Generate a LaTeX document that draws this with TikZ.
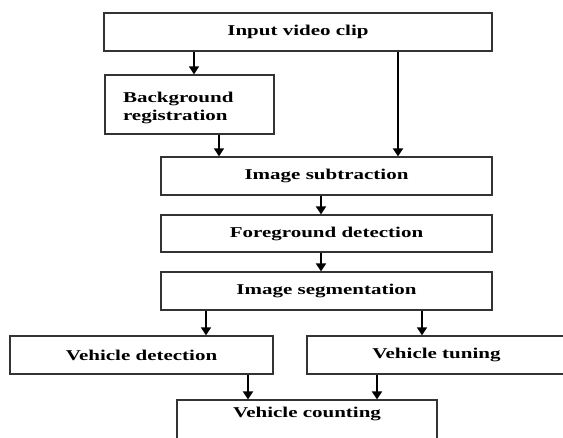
\documentclass[tikz,border=0pt]{standalone}
\usepackage{fontspec}
\setmainfont[FakeStretch=1.4]{Liberation Serif}
\usetikzlibrary{arrows.meta}

\tikzset{
    stage/.style={draw=black!80, line width=1.3pt, minimum height=38, inner sep=0pt,
        font=\fontsize{15}{18}\selectfont\bfseries},
    flow/.style={-{Triangle[length=8,width=10]}, line width=1.5pt}
}

\begin{document}
\begin{tikzpicture}[x=1pt, y=-1pt]

    \useasboundingbox (0,0) rectangle (563,437);

    % Stages
    \node[stage, minimum width=388] (input) at (298,32) {Input video clip};
    \node[stage, minimum width=169, minimum height=59, text width=133,
          align=left, text depth=15] (bgreg) at (189.5,104.5) {Background\\registration};
    \node[stage, minimum width=331] (isub) at (326.5,176) {Image subtraction};
    \node[stage, minimum width=331, minimum height=37] (fgdet) at (326.5,233.5) {Foreground detection};
    \node[stage, minimum width=331] (iseg) at (326.5,291) {Image segmentation};
    \node[stage, minimum width=263] (vdet) at (141.5,355) {Vehicle detection};
    \node[stage, minimum width=259] (vtun) at (436.5,355) {Vehicle tuning};
    \node[stage, minimum width=260, minimum height=44] (vcount) at (307,422) {};
    \node[font=\fontsize{15}{18}\selectfont\bfseries] (vcounttxt) at (307,414) {Vehicle counting};

    % Arrows
    \draw[flow] ([xshift=4.5]bgreg.north |- input.south) -- ([xshift=4.5]bgreg.north);
    \draw[flow, line width=1.9pt] ([xshift=71.5]isub.north |- input.south) -- ([xshift=71.5]isub.north);
    \draw[flow] ([xshift=29.5]bgreg.south) -- ([xshift=29.5]bgreg.south |- isub.north);
    \draw[flow, line width=1.9pt] ([xshift=-5.5]isub.south) -- ([xshift=-5.5]fgdet.north);
    \draw[flow, line width=1.9pt] ([xshift=-5.5]fgdet.south) -- ([xshift=-5.5]iseg.north);
    \draw[flow] ([xshift=64.5]vdet.north |- iseg.south) -- ([xshift=64.5]vdet.north);
    \draw[flow] ([xshift=-14.5]vtun.north |- iseg.south) -- ([xshift=-14.5]vtun.north);
    \draw[flow, line width=1.9pt] ([xshift=-59]vcount.north |- vdet.south) -- ([xshift=-59]vcount.north);
    \draw[flow, line width=1.9pt] ([xshift=70]vcount.north |- vtun.south) -- ([xshift=70]vcount.north);

\end{tikzpicture}
\end{document}
